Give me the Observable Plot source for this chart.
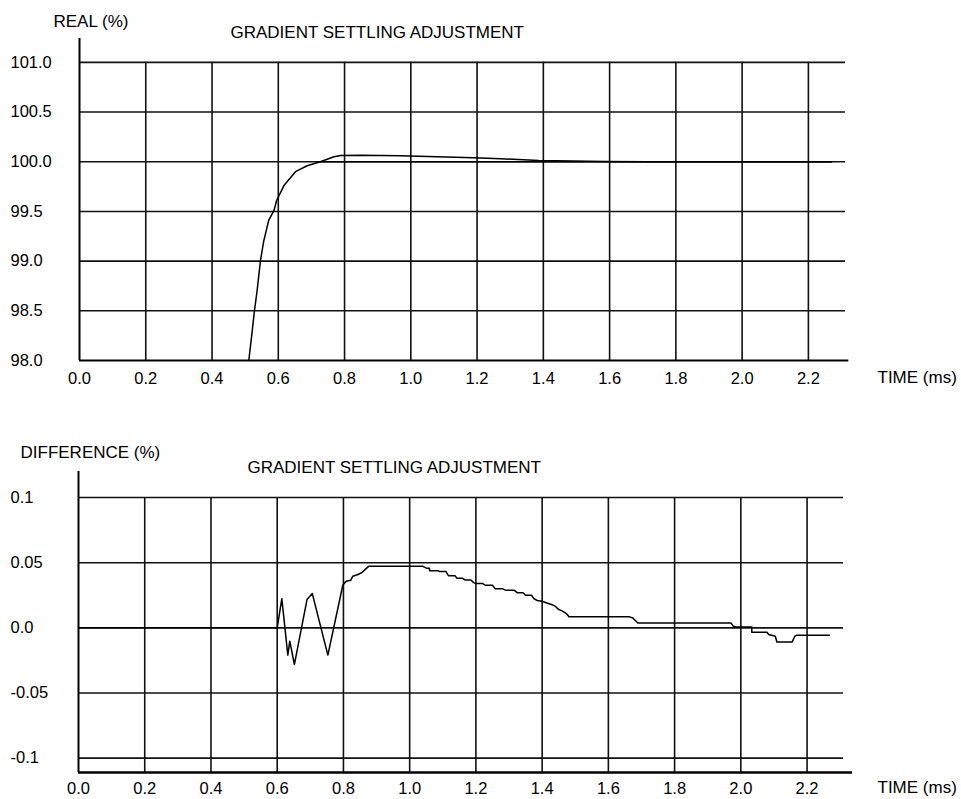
<!DOCTYPE html>
<html>
<head>
<meta charset="utf-8">
<script src="https://cdn.jsdelivr.net/npm/d3@7"></script>
<script src="https://cdn.jsdelivr.net/npm/@observablehq/plot@0.6"></script>
<style>
  html, body { margin: 0; padding: 0; background: #fff; }
  #chart svg { display: block; }
</style>
</head>
<body>
<div id="chart"></div>
<script>
// ---- tick labels ----
const xTicks = [0, 0.2, 0.4, 0.6, 0.8, 1.0, 1.2, 1.4, 1.6, 1.8, 2.0, 2.2];
const xTickLabels = ["0.0", "0.2", "0.4", "0.6", "0.8", "1.0", "1.2", "1.4", "1.6", "1.8", "2.0", "2.2"];
const realTicks = [98.0, 98.5, 99.0, 99.5, 100.0, 100.5, 101.0];
const realTickLabels = ["98.0", "98.5", "99.0", "99.5", "100.0", "100.5", "101.0"];
const diffTicks = [-0.1, -0.05, 0, 0.05, 0.1];
const diffTickLabels = ["-0.1", "-0.05", "0.0", "0.05", "0.1"];

// ---- top chart: REAL (%) ----
const realTime  = [0.511, 0.518, 0.528, 0.536, 0.546, 0.556, 0.571, 0.587, 0.595, 0.617, 0.652, 0.687, 0.727, 0.768, 0.788, 0.85, 0.969, 1.19, 1.271, 1.386, 1.59, 1.713, 2.27];
const realValue = [98.0, 98.2, 98.5, 98.7, 99.0, 99.2, 99.41, 99.51, 99.61, 99.76, 99.9, 99.96, 100.0, 100.05, 100.063, 100.065, 100.06, 100.04, 100.03, 100.013, 100.003, 100.0, 100.0];
const targetTime  = [0.727, 2.27];
const targetValue = [100.0, 100.0];

// ---- bottom chart: DIFFERENCE (%) ----
const diffTime = [0, 0.6, 0.614, 0.632, 0.638, 0.652, 0.69, 0.706, 0.753, 0.798, 0.808, 0.822, 0.828, 0.842, 0.855, 0.866, 0.876,
  1.04, 1.052, 1.06, 1.06, 1.086, 1.09, 1.11, 1.117, 1.137, 1.143, 1.16, 1.168, 1.185, 1.193, 1.2, 1.22, 1.228, 1.25, 1.258,
  1.28, 1.289, 1.315, 1.325, 1.342, 1.35, 1.368, 1.375, 1.385, 1.4, 1.41, 1.43, 1.44, 1.449, 1.46, 1.469, 1.475, 1.481,
  1.662, 1.674, 1.689, 1.970, 1.977, 1.985, 2.033, 2.033, 2.079, 2.084, 2.104, 2.109, 2.155, 2.163, 2.168, 2.267];
const diffValue = [0, 0, 0.0224, -0.0209, -0.0102, -0.0281, 0.0217, 0.0263, -0.0209, 0.0327, 0.0358, 0.0365, 0.0396, 0.0408, 0.0423, 0.0449, 0.0472,
  0.0472, 0.0457, 0.0457, 0.0439, 0.0439, 0.0432, 0.0432, 0.040, 0.040, 0.038, 0.038, 0.0367, 0.0367, 0.0347, 0.0341, 0.0341, 0.0327, 0.0327, 0.0301,
  0.0301, 0.0289, 0.0289, 0.027, 0.027, 0.025, 0.025, 0.0224, 0.021, 0.0204, 0.0195, 0.0178, 0.0165, 0.0143, 0.013, 0.0117, 0.0105, 0.0086,
  0.0086, 0.0076, 0.0038, 0.0038, 0.0013, 0.0006, 0.0006, -0.0033, -0.0033, -0.0051, -0.0064, -0.0108, -0.0108, -0.0064, -0.0057, -0.0057];

const titleText = "GRADIENT SETTLING ADJUSTMENT";

const zip = (xs, ys) => xs.map((x, i) => ({x, y: ys[i]}));
const labelled = (vals, labels) => vals.map((v, i) => ({v, label: labels[i]}));

const font = "'Liberation Sans', Arial, Helvetica, sans-serif";
const gridStroke = "#111";
const gridWidth = 1.6;

// ---- top chart ----
const realChart = Plot.plot({
  width: 961, height: 400,
  marginLeft: 79, marginRight: 116, marginTop: 38, marginBottom: 40,
  style: {fontFamily: font, fontSize: "16.5px", background: "#fff", overflow: "visible"},
  x: {domain: [0, 2.312], axis: null},
  y: {domain: [98, 101.24], axis: null},
  marks: [
    Plot.ruleX(xTicks.slice(1), {y1: 98, y2: 101, stroke: gridStroke, strokeWidth: gridWidth}),
    Plot.ruleY(realTicks.slice(1), {x1: 0, x2: 2.312, stroke: gridStroke, strokeWidth: gridWidth}),
    Plot.ruleY([98], {x1: 0, x2: 2.322, stroke: "#000", strokeWidth: 2}),
    Plot.ruleX([0], {stroke: "#000", strokeWidth: 2}),
    Plot.line(zip(targetTime, targetValue), {x: "x", y: "y", stroke: "#000", strokeWidth: 1.5}),
    Plot.line(zip(realTime, realValue), {x: "x", y: "y", stroke: "#000", strokeWidth: 1.5}),
    Plot.text(labelled(xTicks, xTickLabels), {x: "v", text: "label", frameAnchor: "bottom", dy: 18, lineAnchor: "middle", fill: "#000"}),
    Plot.text(labelled(realTicks, realTickLabels), {y: "v", text: "label", frameAnchor: "left", dx: -69, textAnchor: "start", lineAnchor: "middle", fill: "#000"}),
    Plot.text(["REAL (%)"], {text: d => d, frameAnchor: "top-left", dx: -26, dy: -17, textAnchor: "start", lineAnchor: "middle", fontSize: 17, fill: "#000"}),
    Plot.text([titleText], {text: d => d, frameAnchor: "top-left", dx: 151, dy: -5.5, textAnchor: "start", lineAnchor: "middle", fontSize: 17, fill: "#000"}),
    Plot.text(["TIME (ms)"], {text: d => d, frameAnchor: "bottom-right", dx: 32, dy: 17, textAnchor: "start", lineAnchor: "middle", fontSize: 17, fill: "#000"})
  ]
});

// ---- bottom chart ----
const diffChart = Plot.plot({
  width: 961, height: 399,
  marginLeft: 78, marginRight: 118, marginTop: 71, marginBottom: 27,
  style: {fontFamily: font, fontSize: "16.5px", background: "#fff", overflow: "visible"},
  x: {domain: [0, 2.31], axis: null},
  y: {domain: [-0.111, 0.12], axis: null},
  marks: [
    Plot.ruleX(xTicks.slice(1), {y1: -0.111, y2: 0.1, stroke: gridStroke, strokeWidth: gridWidth}),
    Plot.ruleY(diffTicks, {x1: 0, x2: 2.31, stroke: gridStroke, strokeWidth: gridWidth}),
    Plot.ruleY([-0.111], {x1: 0, x2: 2.337, stroke: "#000", strokeWidth: 2.6}),
    Plot.ruleX([0], {stroke: "#000", strokeWidth: 2}),
    Plot.line(zip(diffTime, diffValue), {x: "x", y: "y", stroke: "#000", strokeWidth: 1.5}),
    Plot.text(labelled(xTicks, xTickLabels), {x: "v", text: "label", frameAnchor: "bottom", dy: 16.5, lineAnchor: "middle", fill: "#000"}),
    Plot.text(labelled(diffTicks, diffTickLabels), {y: "v", text: "label", frameAnchor: "left", dx: -68, textAnchor: "start", lineAnchor: "middle", fill: "#000"}),
    Plot.text(["DIFFERENCE (%)"], {text: d => d, frameAnchor: "top-left", dx: -58, dy: -19, textAnchor: "start", lineAnchor: "middle", fontSize: 17, fill: "#000"}),
    Plot.text([titleText], {text: d => d, frameAnchor: "top-left", dx: 169, dy: -4, textAnchor: "start", lineAnchor: "middle", fontSize: 17, fill: "#000"}),
    Plot.text(["TIME (ms)"], {text: d => d, frameAnchor: "bottom-right", dx: 34, dy: 15.5, textAnchor: "start", lineAnchor: "middle", fontSize: 17, fill: "#000"})
  ]
});

const root = document.getElementById("chart");
root.appendChild(realChart);
root.appendChild(diffChart);
</script>
</body>
</html>
